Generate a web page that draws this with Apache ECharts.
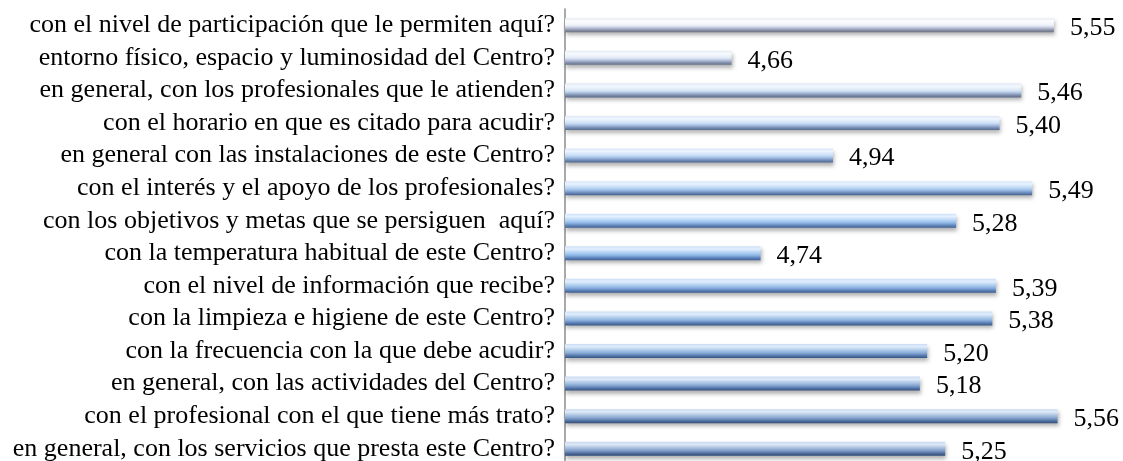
<!DOCTYPE html>
<html>
<head>
<meta charset="utf-8">
<script src="https://cdn.jsdelivr.net/npm/echarts@6/dist/echarts.min.js"></script>
<style>html,body{margin:0;padding:0;background:#fff;}#c{width:1123px;height:461px;}</style>
</head>
<body>
<div id="c"></div>
<script>
const categories = [
  "con el nivel de participación que le permiten aquí?",
  "entorno físico, espacio y luminosidad del Centro?",
  "en general, con los profesionales que le atienden?",
  "con el horario en que es citado para acudir?",
  "en general con las instalaciones de este Centro?",
  "con el interés y el apoyo de los profesionales?",
  "con los objetivos y metas que se persiguen  aquí?",
  "con la temperatura habitual de este Centro?",
  "con el nivel de información que recibe?",
  "con la limpieza e higiene de este Centro?",
  "con la frecuencia con la que debe acudir?",
  "en general, con las actividades del Centro?",
  "con el profesional con el que tiene más trato?",
  "en general, con los servicios que presta este Centro?"
];
const values = [5.55, 4.66, 5.46, 5.40, 4.94, 5.49, 5.28, 4.74, 5.39, 5.38, 5.20, 5.18, 5.56, 5.25];

function hex(h) { return h.match(/\w\w/g).map(x => parseInt(x, 16)); }
function lerp(a, b, t) { return a.map((v, i) => v + (b[i] - v) * t); }
const stopsAt = [0, 0.2, 0.5, 0.65, 0.85, 1];
const palTop = ['e8ecf4', 'fbfcfe', 'eef1f8', 'c6cde4', '8a92a6', '6a7184'].map(hex);
const palMid = ['cfe3fa', 'e2f0ff', 'a9cdf3', '8db6e6', '5b82bb', '3d5f95'].map(hex);
const palBot = ['c8d8ee', 'dde8f6', '9db6d8', '7f9cc6', '4b6a9a', '2f4a75'].map(hex);
const n = values.length;
const data = values.map((v, i) => {
  const t = i / (n - 1);
  const stops = stopsAt.map((o, k) => {
    const c = t < 0.5 ? lerp(palTop[k], palMid[k], t / 0.5) : lerp(palMid[k], palBot[k], (t - 0.5) / 0.5);
    return { offset: o, color: 'rgb(' + c.map(Math.round).join(',') + ')' };
  });
  return { value: v, itemStyle: { color: new echarts.graphic.LinearGradient(0, 0, 0, 1, stops) } };
});

const chart = echarts.init(document.getElementById('c'), null, { renderer: 'canvas' });
chart.setOption({
  animation: false,
  grid: { left: 565, right: 51, top: 9, bottom: -4, containLabel: false, outerBoundsMode: 'none' },
  xAxis: {
    type: 'value', min: 4.2, max: 5.6,
    show: false
  },
  yAxis: {
    type: 'category', data: categories, inverse: true,
    axisLine: { show: true, lineStyle: { color: '#8c8c8c', width: 1.5 } },
    axisTick: { show: false },
    axisLabel: {
      interval: 0,
      color: '#000', fontFamily: '"Liberation Serif", "Times New Roman", serif',
      fontSize: 26, margin: 10
    }
  },
  series: [{
    type: 'bar', data: data, barWidth: 14,
    itemStyle: {
      shadowColor: 'rgba(0,0,0,0.3)', shadowBlur: 4, shadowOffsetY: 3, shadowOffsetX: 1
    },
    label: {
      show: true, position: 'right', distance: 16, offset: [0, 3],
      color: '#000', fontFamily: '"Liberation Serif", "Times New Roman", serif', fontSize: 26,
      formatter: p => p.value.toFixed(2).replace('.', ',')
    }
  }]
});
</script>
</body>
</html>
